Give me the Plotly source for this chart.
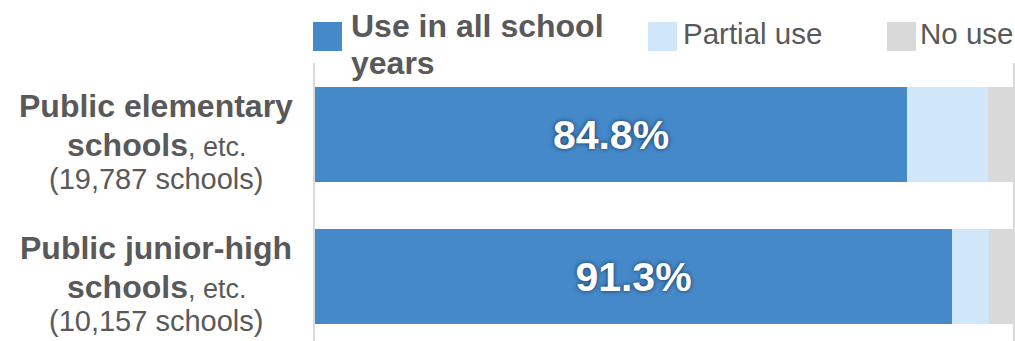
import plotly.graph_objects as go

# Share of schools by usage status (%)
categories = ["Public elementary schools", "Public junior-high schools"]
label_heads = ["Public elementary", "Public junior-high"]
school_counts = ["19,787", "10,157"]
series_names = ["Use in all school years", "Partial use", "No use"]
full_use = [84.8, 91.3]
partial_use = [11.6, 5.3]
no_use = [3.6, 3.4]

colors = ["#4589C9", "#D0E6F9", "#D9D9D9"]
text_gray = "#595959"
font_family = "Liberation Sans, Arial, sans-serif"

W, H = 1015, 341
L, R, T, B = 315, 2, 63, 0
plot_w = W - L - R
plot_h = H - T - B


def px_x(px):
    return (px - L) / plot_w


def px_y(py):
    return (H - B - py) / plot_h


fig = go.Figure()

values = [full_use, partial_use, no_use]
for i, (name, vals) in enumerate(zip(series_names, values)):
    kwargs = {}
    if i == 0:
        kwargs = dict(
            texttemplate="<b>%{x:.1f}%</b>",
            textposition="inside",
            insidetextanchor="middle",
            textangle=0,
            textfont=dict(family=font_family, size=41, color="white",
                          shadow="0px 0px 4px rgba(20,40,70,0.9)"),
        )
    fig.add_trace(go.Bar(
        x=vals, y=categories, orientation="h", name=name,
        marker=dict(color=colors[i], line=dict(width=0)),
        width=0.67, showlegend=False, hoverinfo="skip", **kwargs
    ))

# Category labels (three lines each)
label_x = px_x(156)
for cat, head, count in zip(categories, label_heads, school_counts):
    lines = [
        (f"<b>{head}</b>", 32, 29),
        ("<b>schools</b><span style='font-size:27px'>, etc.</span>", 32, -10),
        (f"({count} schools)", 29, -44),
    ]
    for txt, size, shift in lines:
        fig.add_annotation(
            x=label_x, xref="paper", y=cat, yref="y", yshift=shift,
            text=txt, showarrow=False, xanchor="center", yanchor="middle",
            font=dict(family=font_family, size=size, color=text_gray),
        )

# Legend drawn as swatches and labels above the plot
legend_items = [
    (313, 342, 349, ["<b>Use in all school</b>", "<b>years</b>"], 32, [26, 63]),
    (648, 677, 681, [series_names[1]], 29.5, [33]),
    (887, 916, 918, [series_names[2]], 29.5, [33]),
]
for (x0, x1, tx, texts, size, ys), col in zip(legend_items, colors):
    fig.add_shape(type="rect", xref="paper", yref="paper",
                  x0=px_x(x0), x1=px_x(x1), y0=px_y(51), y1=px_y(22),
                  fillcolor=col, line=dict(width=0), layer="above")
    for t, yy in zip(texts, ys):
        fig.add_annotation(
            x=px_x(tx), xref="paper", y=px_y(yy), yref="paper",
            text=t, showarrow=False, xanchor="left", yanchor="middle",
            font=dict(family=font_family, size=size, color=text_gray),
        )

fig.update_layout(
    width=W, height=H, barmode="stack",
    margin=dict(l=L, r=R, t=T, b=B, pad=0),
    paper_bgcolor="white", plot_bgcolor="white",
    bargap=0,
    xaxis=dict(range=[0, 100], showgrid=False, zeroline=False,
               showticklabels=False, showline=False, fixedrange=True),
    yaxis=dict(type="category", categoryorder="array", categoryarray=categories,
               range=[1.454, -0.5035], showgrid=False, zeroline=False,
               showticklabels=False, showline=True, linecolor="#D9D9D9",
               linewidth=2, mirror=True, ticks="", fixedrange=True),
    font=dict(family=font_family, color=text_gray),
    uniformtext=dict(mode=False),
)

fig.write_html("out.html", config={"displayModeBar": False})
